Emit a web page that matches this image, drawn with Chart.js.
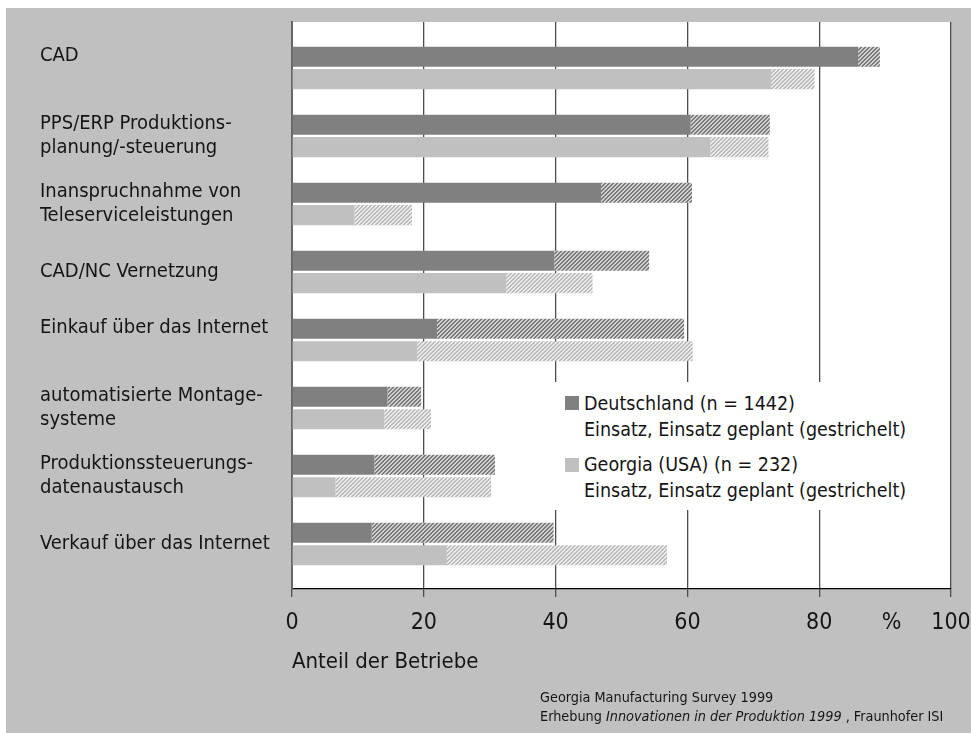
<!DOCTYPE html>
<html>
<head>
<meta charset="utf-8">
<script src="https://cdn.jsdelivr.net/npm/chart.js@4.4.1/dist/chart.umd.min.js"></script>
<style>
  html, body { margin: 0; padding: 0; background: #fff; }
  #wrap { position: relative; width: 971px; height: 733px; overflow: hidden; }
  #c { position: absolute; left: 0; top: 0; }
  .txt { position: absolute; white-space: nowrap; color: #151515;
         font-family: 'Liberation Sans Narrow', 'DejaVu Sans Condensed', 'Arial Narrow', sans-serif; }
  #legend { position: absolute; left: 548px; top: 382px; width: 387px; height: 128px; background: #fff; }
  .sw { position: absolute; width: 14px; height: 14px; }
  .lg { font-size: 19.5px; line-height: 26px; }
  .note { font-size: 14.3px; line-height: 19px; }
</style>
</head>
<body>
<div id="wrap">
  <canvas id="c" width="971" height="733"></canvas>

  <div id="legend">
    <div class="sw" style="left:17px; top:14px; background:#808080"></div>
    <div class="txt lg" style="left:36px; top:9px">Deutschland (n = 1442)</div>
    <div class="txt lg" style="left:36px; top:35px">Einsatz, Einsatz geplant (gestrichelt)</div>
    <div class="sw" style="left:17px; top:76px; background:#c0c0c0"></div>
    <div class="txt lg" style="left:36px; top:70px">Georgia (USA) (n = 232)</div>
    <div class="txt lg" style="left:36px; top:96px">Einsatz, Einsatz geplant (gestrichelt)</div>
  </div>

  <div class="txt note" style="left:540px; top:688px">Georgia Manufacturing Survey 1999</div>
  <div class="txt note" style="left:540px; top:707px">Erhebung <i>Innovationen in der Produktion 1999</i> , Fraunhofer ISI</div>
</div>

<script>
// ── Daten (Anteil der Betriebe in %) ─────────────────────────────
// an empty second line lifts a one-line label a little, as in the original
const CATEGORIES = [
  ['CAD', ''],
  ['PPS/ERP Produktions-', 'planung/-steuerung'],
  ['Inanspruchnahme von', 'Teleserviceleistungen'],
  'CAD/NC Vernetzung',
  ['Einkauf über das Internet', ''],
  ['automatisierte Montage-', 'systeme'],
  ['Produktionssteuerungs-', 'datenaustausch'],
  'Verkauf über das Internet',
];

// Einsatz (voll) und zusätzlich geplanter Anteil (gestrichelt)
const DE_EINSATZ = [85.9, 60.5, 46.9, 39.8, 22.0, 14.5, 12.5, 12.1];
const DE_GEPLANT = [ 3.3, 12.0, 13.8, 14.4, 37.5,  5.1, 18.3, 27.6];
const GA_EINSATZ = [72.7, 63.5,  9.5, 32.5, 19.0, 14.0,  6.6, 23.5];
const GA_GEPLANT = [ 6.6,  8.8,  8.7, 13.1, 41.8,  7.1, 23.6, 33.4];

const X_TICKS = [0, 20, 40, 60, 80, 100];
const UNIT_LABEL = '%';
const UNIT_AT = 91;          // Position des %-Zeichens auf der x-Achse

const FONT = "'Liberation Sans Narrow', 'DejaVu Sans Condensed', 'Arial Narrow', sans-serif";

// crisp diagonal hatching ("///") for planned shares, 4px tile
function hatch(bg, fg) {
  const c = document.createElement('canvas');
  c.width = c.height = 4;
  const g = c.getContext('2d');
  g.fillStyle = bg;
  g.fillRect(0, 0, 4, 4);
  g.fillStyle = fg;
  for (let r = 0; r < 4; r++) {
    g.fillRect((3 - r + 4) % 4, r, 1, 1);
    g.fillRect((4 - r) % 4, r, 1, 1);
  }
  return g.createPattern(c, 'repeat');
}

const pts = arr => arr.map((v, i) => ({ x: v, y: i }));

// grey frame + white plot area + unit sign
const frame = {
  id: 'frame',
  beforeDraw(chart) {
    const { ctx, chartArea: a } = chart;
    ctx.save();
    ctx.fillStyle = '#c0c0c0';
    ctx.fillRect(6, 8, chart.width - 6, chart.height - 8);
    ctx.fillStyle = '#fff';
    ctx.fillRect(a.left, a.top, a.right - a.left, a.bottom - a.top);
    ctx.restore();
  },
  afterDraw(chart) {
    const { ctx, scales: { x } } = chart;
    ctx.save();
    ctx.font = '23px ' + FONT;
    ctx.fillStyle = '#151515';
    ctx.textAlign = 'center';
    ctx.textBaseline = 'middle';
    ctx.fillText(UNIT_LABEL, x.getPixelForValue(UNIT_AT), x.top + 8 + 12 + 14);
    ctx.restore();
  }
};

const barOpts = { borderWidth: 0, categoryPercentage: 0.656, barPercentage: 0.897 };

new Chart(document.getElementById('c'), {
  type: 'bar',
  data: {
    datasets: [
      { label: 'Deutschland Einsatz', data: pts(DE_EINSATZ), backgroundColor: '#808080', stack: 'de', ...barOpts },
      { label: 'Deutschland geplant', data: pts(DE_GEPLANT), backgroundColor: hatch('#d0d0d0', '#7a7a7a'), stack: 'de', ...barOpts },
      { label: 'Georgia Einsatz',     data: pts(GA_EINSATZ), backgroundColor: '#c0c0c0', stack: 'ga', ...barOpts },
      { label: 'Georgia geplant',     data: pts(GA_GEPLANT), backgroundColor: hatch('#ececec', '#bababa'), stack: 'ga', ...barOpts },
    ]
  },
  options: {
    indexAxis: 'y',
    responsive: false,
    animation: false,
    layout: { padding: { left: 40, top: 22, right: 20, bottom: 0 } },
    scales: {
      x: {
        type: 'linear',
        stacked: true,
        min: 0, max: 100,
        afterBuildTicks: s => { s.ticks = X_TICKS.map(v => ({ value: v })); },
        afterFit: s => { s.height = 144; s.paddingLeft = 0; s.paddingRight = 0; },
        ticks: { color: '#151515', padding: 12, font: { family: FONT, size: 23 }, maxRotation: 0 },
        grid: { color: '#4d4d4d', lineWidth: 1.3, tickLength: 8 },
        border: { color: '#000', width: 1.2 },
        title: {
          display: true, text: 'Anteil der Betriebe', align: 'start', color: '#151515',
          font: { family: FONT, size: 22 }, padding: { top: 0, bottom: 58 }
        }
      },
      y: {
        type: 'linear',
        reverse: true,
        offset: false,
        min: -0.676, max: 7.662,
        afterFit: s => { s.width = 252; s.paddingTop = 0; s.paddingBottom = 0; },
        ticks: {
          stepSize: 1, includeBounds: false, autoSkip: false,
          crossAlign: 'far', padding: 0, color: '#151515',
          font: { family: FONT, size: 20, lineHeight: 1.2 },
          callback: v => (Number.isInteger(v) && CATEGORIES[v]) || ''
        },
        grid: { display: false },
        border: { color: '#666', width: 2 }
      }
    },
    plugins: {
      legend: { display: false },
      tooltip: { enabled: false }
    }
  },
  plugins: [frame]
});
</script>
</body>
</html>
